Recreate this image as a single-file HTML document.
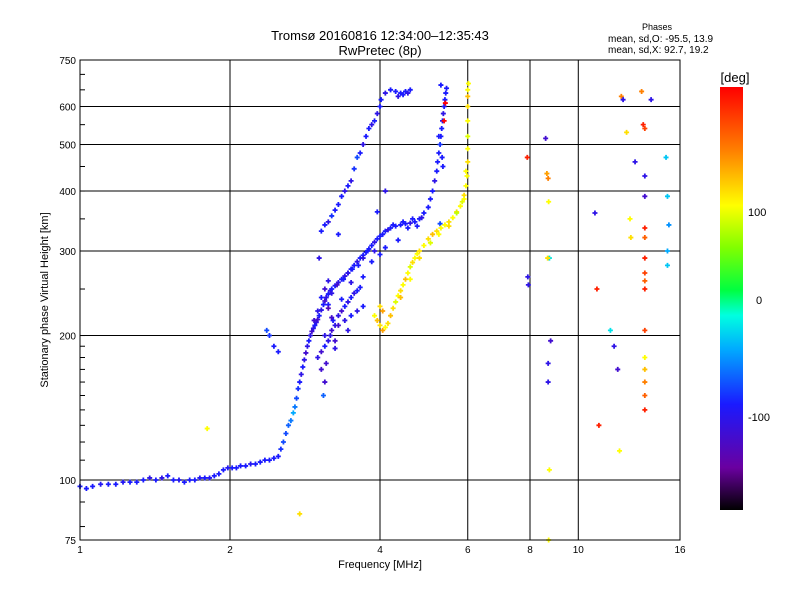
<!DOCTYPE html>
<html><head><meta charset="utf-8"><style>
body{margin:0;background:#fff;}
svg{display:block;font-family:"Liberation Sans",sans-serif;}
</style></head><body>
<svg id="c" width="800" height="600" xmlns="http://www.w3.org/2000/svg">
<rect width="800" height="600" fill="#fff"/>
<text x="380" y="40" font-size="13" text-anchor="middle">Tromsø 20160816 12:34:00–12:35:43</text>
<text x="380" y="55" font-size="13" text-anchor="middle">RwPretec (8p)</text>
<text x="657" y="30" font-size="9" text-anchor="middle">Phases</text>
<text x="608" y="42" font-size="10">mean, sd,O: -95.5, 13.9</text>
<text x="608" y="53" font-size="10">mean, sd,X:  92.7, 19.2</text>
<text x="380" y="568" font-size="11" text-anchor="middle">Frequency [MHz]</text>
<text x="48" y="300" font-size="11" text-anchor="middle" transform="rotate(-90 48 300)">Stationary phase Virtual Height [km]</text>
<defs><linearGradient id="cb" x1="0" y1="1" x2="0" y2="0">
<stop offset="0" stop-color="#000"/><stop offset="0.1" stop-color="#6a00a0"/><stop offset="0.25" stop-color="#1a1aff"/><stop offset="0.38" stop-color="#00aaff"/><stop offset="0.46" stop-color="#00ffe0"/><stop offset="0.52" stop-color="#00ff40"/><stop offset="0.62" stop-color="#80ff00"/><stop offset="0.72" stop-color="#ffff00"/><stop offset="0.85" stop-color="#ff8000"/><stop offset="1" stop-color="#ff0000"/></linearGradient></defs>
<rect x="720" y="87" width="23" height="423" fill="url(#cb)"/>
<text x="735" y="82" font-size="13" text-anchor="middle">[deg]</text>
<text x="748" y="216" font-size="11">100</text>
<text x="756" y="304" font-size="11">0</text>
<text x="748" y="421" font-size="11">-100</text>
<g id="grid"></g><g id="pts"></g>
<rect x="80" y="60" width="600" height="480" fill="none" stroke="#000" stroke-width="1"/>
</svg>
<script>
const xTicks=[1,2,4,6,8,10,16];
const yTicks=[75,100,200,300,400,500,600,750];
const gridX=[2,4,6,8,10];
const gridY=[100,200,300,400,500,600];
const oFreq=[1.0,1.03,1.06,1.1,1.14,1.18,1.22,1.26,1.3,1.34,1.38,1.42,1.46,1.5,1.54,1.58,1.62,1.66,1.7,1.74,1.78,1.82,1.86,1.9,1.94,1.98,2.02,2.06,2.1,2.15,2.2,2.25,2.3,2.35,2.4,2.45,2.5,2.53,2.56,2.59,2.62,2.65,2.68,2.7,2.72,2.74,2.76,2.78,2.8,2.82,2.84,2.86,2.88,2.9,2.92,2.94,2.96,2.98,3.0,3.02,3.05,3.08,3.1,3.12,3.15,3.18,3.2,3.25,3.3,3.35,3.4,3.45,3.5,3.55,3.6,3.65,3.7,3.75,3.8,3.85,3.9,3.95,4.0,4.05,4.1,4.15,4.2,4.3,4.4,4.5,4.6,4.7,4.8,4.9,5.0,5.05,5.1,5.15,5.2,5.22,5.25,5.28,5.3,5.32,5.34,5.36,5.38,5.4,5.42,5.44,5.3,5.35,5.25,4.1,4.25,4.45,4.65,4.85,3.95,4.35,4.55,4.75,5.28,5.33,5.38,5.41];
const oHeight=[97,96,97,98,98,98,99,99,99,100,101,100,101,102,100,100,99,100,100,101,101,101,102,103,105,106,106,106,107,107,108,108,109,110,110,111,112,116,120,125,130,133,138,142,148,155,160,166,172,178,184,190,195,200,204,207,210,213,216,220,226,232,236,240,244,248,250,254,258,262,266,270,275,280,285,290,294,298,303,308,313,318,322,325,330,332,335,338,340,342,343,345,350,360,370,385,400,420,440,460,480,500,520,540,560,580,600,620,640,655,665,450,520,400,340,345,350,352,362,316,335,338,342,470,560,610,580];
const oPhase=[-100,-100,-100,-105,-100,-100,-105,-100,-100,-100,-110,-100,-110,-100,-100,-105,-100,-100,-100,-105,-100,-105,-100,-100,-100,-105,-100,-100,-100,-100,-105,-100,-100,-100,-100,-100,-100,-90,-80,-80,-70,-60,-40,-60,-80,-90,-100,-110,-100,-110,-120,-110,-100,-110,-120,-110,-100,-110,-120,-100,-110,-100,-120,-110,-100,-110,-100,-100,-110,-100,-110,-100,-100,-100,-110,-100,-100,-100,-100,-100,-110,-100,-100,-100,-100,-110,-100,-100,-100,-100,-110,-100,-100,-100,-100,-100,-100,-110,-100,-100,-100,-90,-100,-100,-100,-110,-100,-100,-100,-100,-100,-100,-100,-110,-100,-100,-100,-110,-100,-100,-100,-100,-80,-100];
const cFreq=[2.95,3.0,3.05,3.1,3.15,3.0,3.05,3.1,3.15,3.2,3.25,3.05,3.12,3.18,3.22,3.3,3.35,3.4,3.45,3.5,3.55,3.6,3.65,3.3,3.4,3.5,3.6,3.7,3.1,3.08,3.15,3.2,3.28,3.38,3.45,3.52,3.62,3.7,3.78,3.25,3.45,3.7,3.85,3.9,4.0,4.1,3.1,3.2,3.35,3.5,3.15,3.25];
const cHeight=[215,225,240,250,260,180,185,190,195,205,210,170,175,200,215,220,225,230,235,240,245,248,252,210,215,220,225,230,160,150,232,245,255,262,270,275,280,290,300,195,205,265,285,300,295,305,200,218,238,258,228,188];
const cPhase=[-120,-110,-100,-120,-110,-110,-120,-100,-110,-120,-110,-120,-120,-110,-100,-110,-120,-100,-110,-100,-110,-100,-100,-120,-110,-100,-110,-100,-120,-70,-100,-110,-120,-100,-110,-100,-100,-110,-100,-120,-110,-100,-100,-110,-100,-100,-110,-120,-100,-110,-130,-110];
const uFreq=[2.37,2.4,2.45,2.5,3.02,3.05,3.1,3.15,3.2,3.25,3.3,3.35,3.4,3.45,3.5,3.55,3.6,3.65,3.7,3.75,3.8,3.85,3.9,3.95,4.0,4.02,4.1,4.2,4.3,4.35,4.4,4.45,4.5,4.55,4.6,3.3];
const uHeight=[205,200,190,185,290,330,340,345,355,365,375,390,400,410,420,445,470,480,500,520,540,550,560,580,600,620,640,650,645,630,640,635,645,640,650,325];
const uPhase=[-80,-90,-100,-100,-110,-100,-100,-110,-90,-100,-100,-100,-110,-100,-110,-90,-80,-100,-110,-100,-100,-110,-100,-110,-100,-100,-110,-100,-100,-110,-100,-100,-100,-110,-100,-100];
const yFreq=[3.9,3.95,4.0,4.05,4.1,4.15,4.2,4.25,4.3,4.35,4.4,4.45,4.5,4.55,4.6,4.65,4.7,4.75,4.8,4.9,5.0,5.1,5.2,5.3,5.4,5.5,5.6,5.7,5.8,5.85,5.9,5.95,5.98,6.0,6.0,6.0,6.0,6.0,6.0,6.0,6.02,5.7,5.95,4.0,4.05,4.4,4.6,4.8,5.05,5.25,5.5,5.9];
const yHeight=[220,215,210,205,208,212,220,228,235,242,248,255,262,270,278,284,290,296,300,308,318,325,330,335,340,345,352,362,372,380,392,410,430,460,490,520,560,600,630,650,670,360,440,230,225,240,262,290,312,325,338,385];
const yPhase=[100,120,110,130,100,110,120,110,90,100,110,100,120,100,90,110,100,100,110,100,110,120,110,100,100,110,100,110,100,90,110,100,100,110,100,90,100,110,120,100,100,80,100,110,130,120,100,110,90,100,110,100];
const sFreq=[1.8,2.76,7.9,7.92,7.94,8.6,8.65,8.7,8.72,8.75,8.68,8.7,8.7,8.8,8.75,8.72,10.8,10.9,11.0,11.6,11.8,12.0,12.1,12.2,12.3,12.5,12.7,12.75,13.4,13.5,13.6,13.6,13.6,13.6,13.6,13.6,13.6,13.6,13.6,13.6,13.6,13.6,13.6,13.6,13.6,15.0,15.1,15.1,15.1,15.2,14.0,13.0];
const sHeight=[128,85,470,265,255,515,435,425,380,290,290,175,160,195,105,75,360,250,130,205,190,170,115,630,620,530,350,320,645,550,540,430,390,335,320,290,270,260,250,205,180,170,160,150,140,470,390,300,280,340,620,460];
const sPhase=[100,110,170,-110,-110,-120,130,140,100,-20,110,-110,-110,-120,100,100,-110,170,170,-20,-110,-120,100,140,-110,110,100,110,140,170,160,-110,-120,170,150,170,160,150,170,160,100,120,140,150,170,-30,-30,-40,-30,-50,-110,-110];

const X=f=>80+150*Math.log2(f);
const Y=h=>540-480*Math.log10(h/75);
const NS="http://www.w3.org/2000/svg";
function mk(t,a,parent){const e=document.createElementNS(NS,t);for(const k in a)e.setAttribute(k,a[k]);parent.appendChild(e);return e;}
function col(p){
  const st=[[-180,[0,0,0]],[-140,[106,0,160]],[-100,[26,26,255]],[-40,[0,170,255]],[-10,[0,255,224]],[10,[0,255,64]],[60,[128,255,0]],[100,[255,255,0]],[140,[255,128,0]],[180,[255,0,0]]];
  for(let i=1;i<st.length;i++){if(p<=st[i][0]){const a=st[i-1],b=st[i];const t=(p-a[0])/(b[0]-a[0]);const c=a[1].map((v,j)=>Math.round(v+(b[1][j]-v)*Math.max(0,t)));return `rgb(${c})`;}}
  return 'rgb(255,0,0)';
}
const g=document.getElementById('grid');
gridX.forEach(v=>{const l=mk('line',{x1:X(v),x2:X(v),y1:60,y2:540,stroke:'#000','stroke-width':1},g);

});
gridY.forEach(v=>{const l=mk('line',{x1:80,x2:680,y1:Y(v),y2:Y(v),stroke:'#000','stroke-width':1},g);

});
xTicks.forEach(v=>{const t=mk('text',{x:X(v),y:553,'font-size':10,'text-anchor':'middle'},g);t.textContent=v;

});
yTicks.forEach(v=>{const t=mk('text',{x:76,y:Y(v)+4,'font-size':10,'text-anchor':'end'},g);t.textContent=v;

});
for(let v=80;v<750;v+=(v<200?10:50)){mk('line',{x1:80,x2:85,y1:Y(v),y2:Y(v),stroke:'#000'},g);}
const p=document.getElementById('pts');
function series(fs,hs,ps,name){
  const grp=mk('g',{},p);
  
  
  fs.forEach((f,i)=>{const x=X(f),y=Y(hs[i]),c=col(ps[i]);
    const e=mk('path',{d:`M${x-2.5},${y}h5M${x},${y-2.5}v5`,stroke:c,'stroke-width':1.8,fill:'none'},grp);
    
    
  });
}
series(oFreq,oHeight,oPhase,'o-trace');
series(cFreq,cHeight,cPhase,'cluster-trace');
series(uFreq,uHeight,uPhase,'upper-trace');
series(yFreq,yHeight,yPhase,'x-trace');
series(sFreq,sHeight,sPhase,'scatter-points');
</script>
</body></html>
